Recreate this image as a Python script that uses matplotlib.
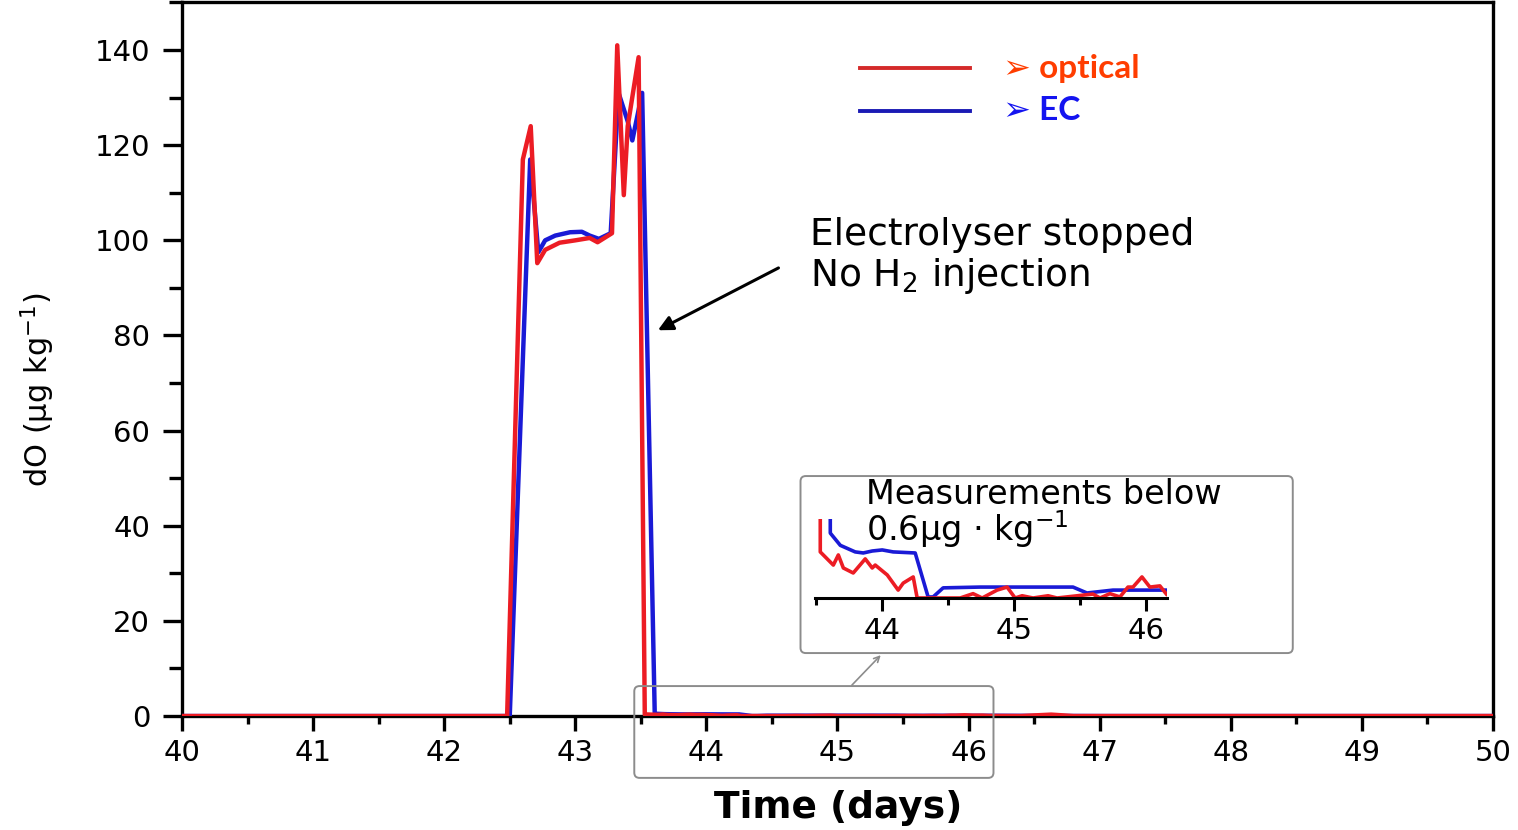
import numpy as np
import matplotlib
matplotlib.use('Agg')
import matplotlib.pyplot as plt
from matplotlib.patches import FancyBboxPatch
from matplotlib.ticker import MultipleLocator

# dissolved oxygen, optical sensor
t_optical = [40.0, 41.0, 42.0, 42.48, 42.60, 42.66, 42.71, 42.77, 42.88, 43.0,
             43.11, 43.17, 43.28, 43.32, 43.37, 43.40, 43.483,
             43.530, 43.629, 43.667, 43.705, 43.780, 43.871, 43.924, 43.947,
             44.038, 44.121, 44.159, 44.235, 44.265, 44.591, 44.689, 44.758,
             44.871, 44.947, 45.008, 45.061, 45.144, 45.258, 45.326, 45.598,
             45.652, 45.727, 45.803, 45.864, 45.902, 45.970, 46.030, 46.106,
             46.159, 46.4, 46.63, 46.8, 47.0, 48.0, 49.0, 50.0]
do_optical = [0.0, 0.0, 0.0, 0.0, 117.0, 124.0, 95.2, 98.0, 99.5, 100.0,
              100.5, 99.6, 101.5, 141.0, 109.5, 124.0, 138.5,
              0.35, 0.25, 0.327, 0.228, 0.19, 0.297, 0.228, 0.25,
              0.175, 0.06, 0.113, 0.16, 0.0, 0.0, 0.033, 0.0,
              0.06, 0.083, 0.0, 0.017, 0.0, 0.017, 0.0, 0.03,
              0.0, 0.033, 0.008, 0.083, 0.083, 0.16, 0.083, 0.092,
              0.025, 0.0, 0.3, 0.0, 0.0, 0.0, 0.0, 0.0]

# dissolved oxygen, electrochemical sensor
t_ec = [40.0, 41.0, 42.0, 42.50, 42.656, 42.718, 42.77, 42.847, 42.96, 43.05,
        43.11, 43.18, 43.27, 43.33, 43.40, 43.435, 43.51,
        43.606, 43.682, 43.795, 43.856, 43.924, 44.0, 44.083, 44.25,
        44.348, 44.386, 44.462, 44.742, 45.447, 45.553, 45.75, 46.159,
        47.0, 48.0, 49.0, 50.0]
do_ec = [0.0, 0.0, 0.0, 0.0, 117.0, 97.5, 100.0, 101.0, 101.7, 101.8,
         101.0, 100.3, 101.5, 131.0, 125.0, 121.0, 131.0,
         0.493, 0.4, 0.35, 0.342, 0.357, 0.365, 0.35, 0.342,
         0.008, 0.008, 0.077, 0.083, 0.083, 0.038, 0.06, 0.06,
         0.0, 0.0, 0.0, 0.0]

RED = '#ec1c24'
BLUE = '#1a1ad6'

plt.rcParams['font.family'] = 'DejaVu Sans'

fig = plt.figure(figsize=(15.18, 8.3), dpi=100)
fig.patch.set_facecolor('white')

ax = fig.add_axes([0.1199, 0.1373, 0.8636, 0.8597])
ax.plot(t_ec, do_ec, color=BLUE, lw=3.2, zorder=3)
ax.plot(t_optical, do_optical, color=RED, lw=3.2, zorder=4)
ax.set_xlim(40, 50)
ax.set_ylim(0, 150)

for s in ax.spines.values():
    s.set_linewidth(2.4)
ax.xaxis.set_major_locator(MultipleLocator(1))
ax.xaxis.set_minor_locator(MultipleLocator(0.5))
ax.yaxis.set_minor_locator(MultipleLocator(10))
ax.set_yticks([0, 20, 40, 60, 80, 100, 120, 140])
ax.tick_params(axis='x', which='major', direction='out', length=10.5, width=2.4,
               labelsize=21, pad=6)
ax.tick_params(axis='x', which='minor', direction='out', length=5.5, width=2.4)
ax.tick_params(axis='y', which='major', direction='out', length=14, width=2.4,
               labelsize=21, pad=9)
ax.tick_params(axis='y', which='minor', direction='out', length=9.5, width=2.4)

fig.text(838 / 1518, 0.027, 'Time (days)', fontsize=27, fontweight='bold',
         ha='center', va='center')
fig.text(0.025, 0.53, r'dO (µg kg$^{-1}$)', fontsize=22, rotation=90,
         ha='center', va='center')

# annotation for the shutdown
ax.text(44.79, 105, 'Electrolyser stopped\nNo H$_2$ injection', fontsize=27,
        ha='left', va='top', linespacing=1.1)
ax.annotate('', xy=(43.63, 81.1), xytext=(44.55, 94.2),
            arrowprops=dict(arrowstyle='-|>', lw=2.2, color='black',
                            mutation_scale=22, shrinkA=0, shrinkB=0))

# legend
leg_lines = [('#d42a2a', 0.918, '➢ optical', '#ff3d00'),
             ('#1a1ab4', 0.8663, '➢ EC', '#1414f0')]
for lc, y, label, tc in leg_lines:
    fig.add_artist(plt.Line2D([860 / 1518, 970 / 1518], [y, y],
                              color=lc, lw=2.8, transform=fig.transFigure))
    fig.text(1003 / 1518, y, label, fontsize=24, fontweight='bold', color=tc,
             ha='left', va='center', family=['Lato', 'DejaVu Sans'])

# zoom box on the main axis and the framed inset
aspect = (150 / 713.6) / (10 / 1310)
zoom_box = FancyBboxPatch((43.45, -13.0), 46.19 - 43.45, 6.3 + 13.0,
                          boxstyle='round,pad=0,rounding_size=0.04',
                          mutation_aspect=aspect, fc='none', ec='#8c8c8c',
                          lw=1.4, clip_on=False, zorder=6)
ax.add_patch(zoom_box)
inset_frame = FancyBboxPatch((44.718, 13.24), 48.473 - 44.718, 50.45 - 13.24,
                             boxstyle='round,pad=0,rounding_size=0.04',
                             mutation_aspect=aspect, fc='white', ec='#8c8c8c',
                             lw=1.4, clip_on=False, zorder=6)
ax.add_patch(inset_frame)
ax.annotate('', xy=(45.33, 12.8), xytext=(45.11, 6.5),
            arrowprops=dict(arrowstyle='->', lw=1.2, color='#8c8c8c',
                            mutation_scale=10, shrinkA=0, shrinkB=0),
            zorder=6)

ins = fig.add_axes([815 / 1518, 1 - 598 / 830, 352 / 1518, 79 / 830])
ins.patch.set_alpha(0)
ins.set_zorder(7)
ins.plot(t_ec, do_ec, color=BLUE, lw=2.6)
ins.plot(t_optical, do_optical, color=RED, lw=2.6)
ins.set_xlim(43.49, 46.16)
ins.set_ylim(0, 0.6)
for side in ['top', 'right', 'left']:
    ins.spines[side].set_visible(False)
ins.spines['bottom'].set_linewidth(2.2)
ins.set_yticks([])
ins.xaxis.set_major_locator(MultipleLocator(1))
ins.xaxis.set_minor_locator(MultipleLocator(0.5))
ins.tick_params(axis='x', which='major', direction='out', length=9, width=2.2,
                labelsize=21, pad=5)
ins.tick_params(axis='x', which='minor', direction='out', length=5, width=2.2)
fig.text(866 / 1518, 1 - 478 / 830, 'Measurements below\n0.6µg · kg$^{-1}$',
         fontsize=24, ha='left', va='top', linespacing=0.9, zorder=8)

fig.savefig('out.png', dpi=100, facecolor='white')
